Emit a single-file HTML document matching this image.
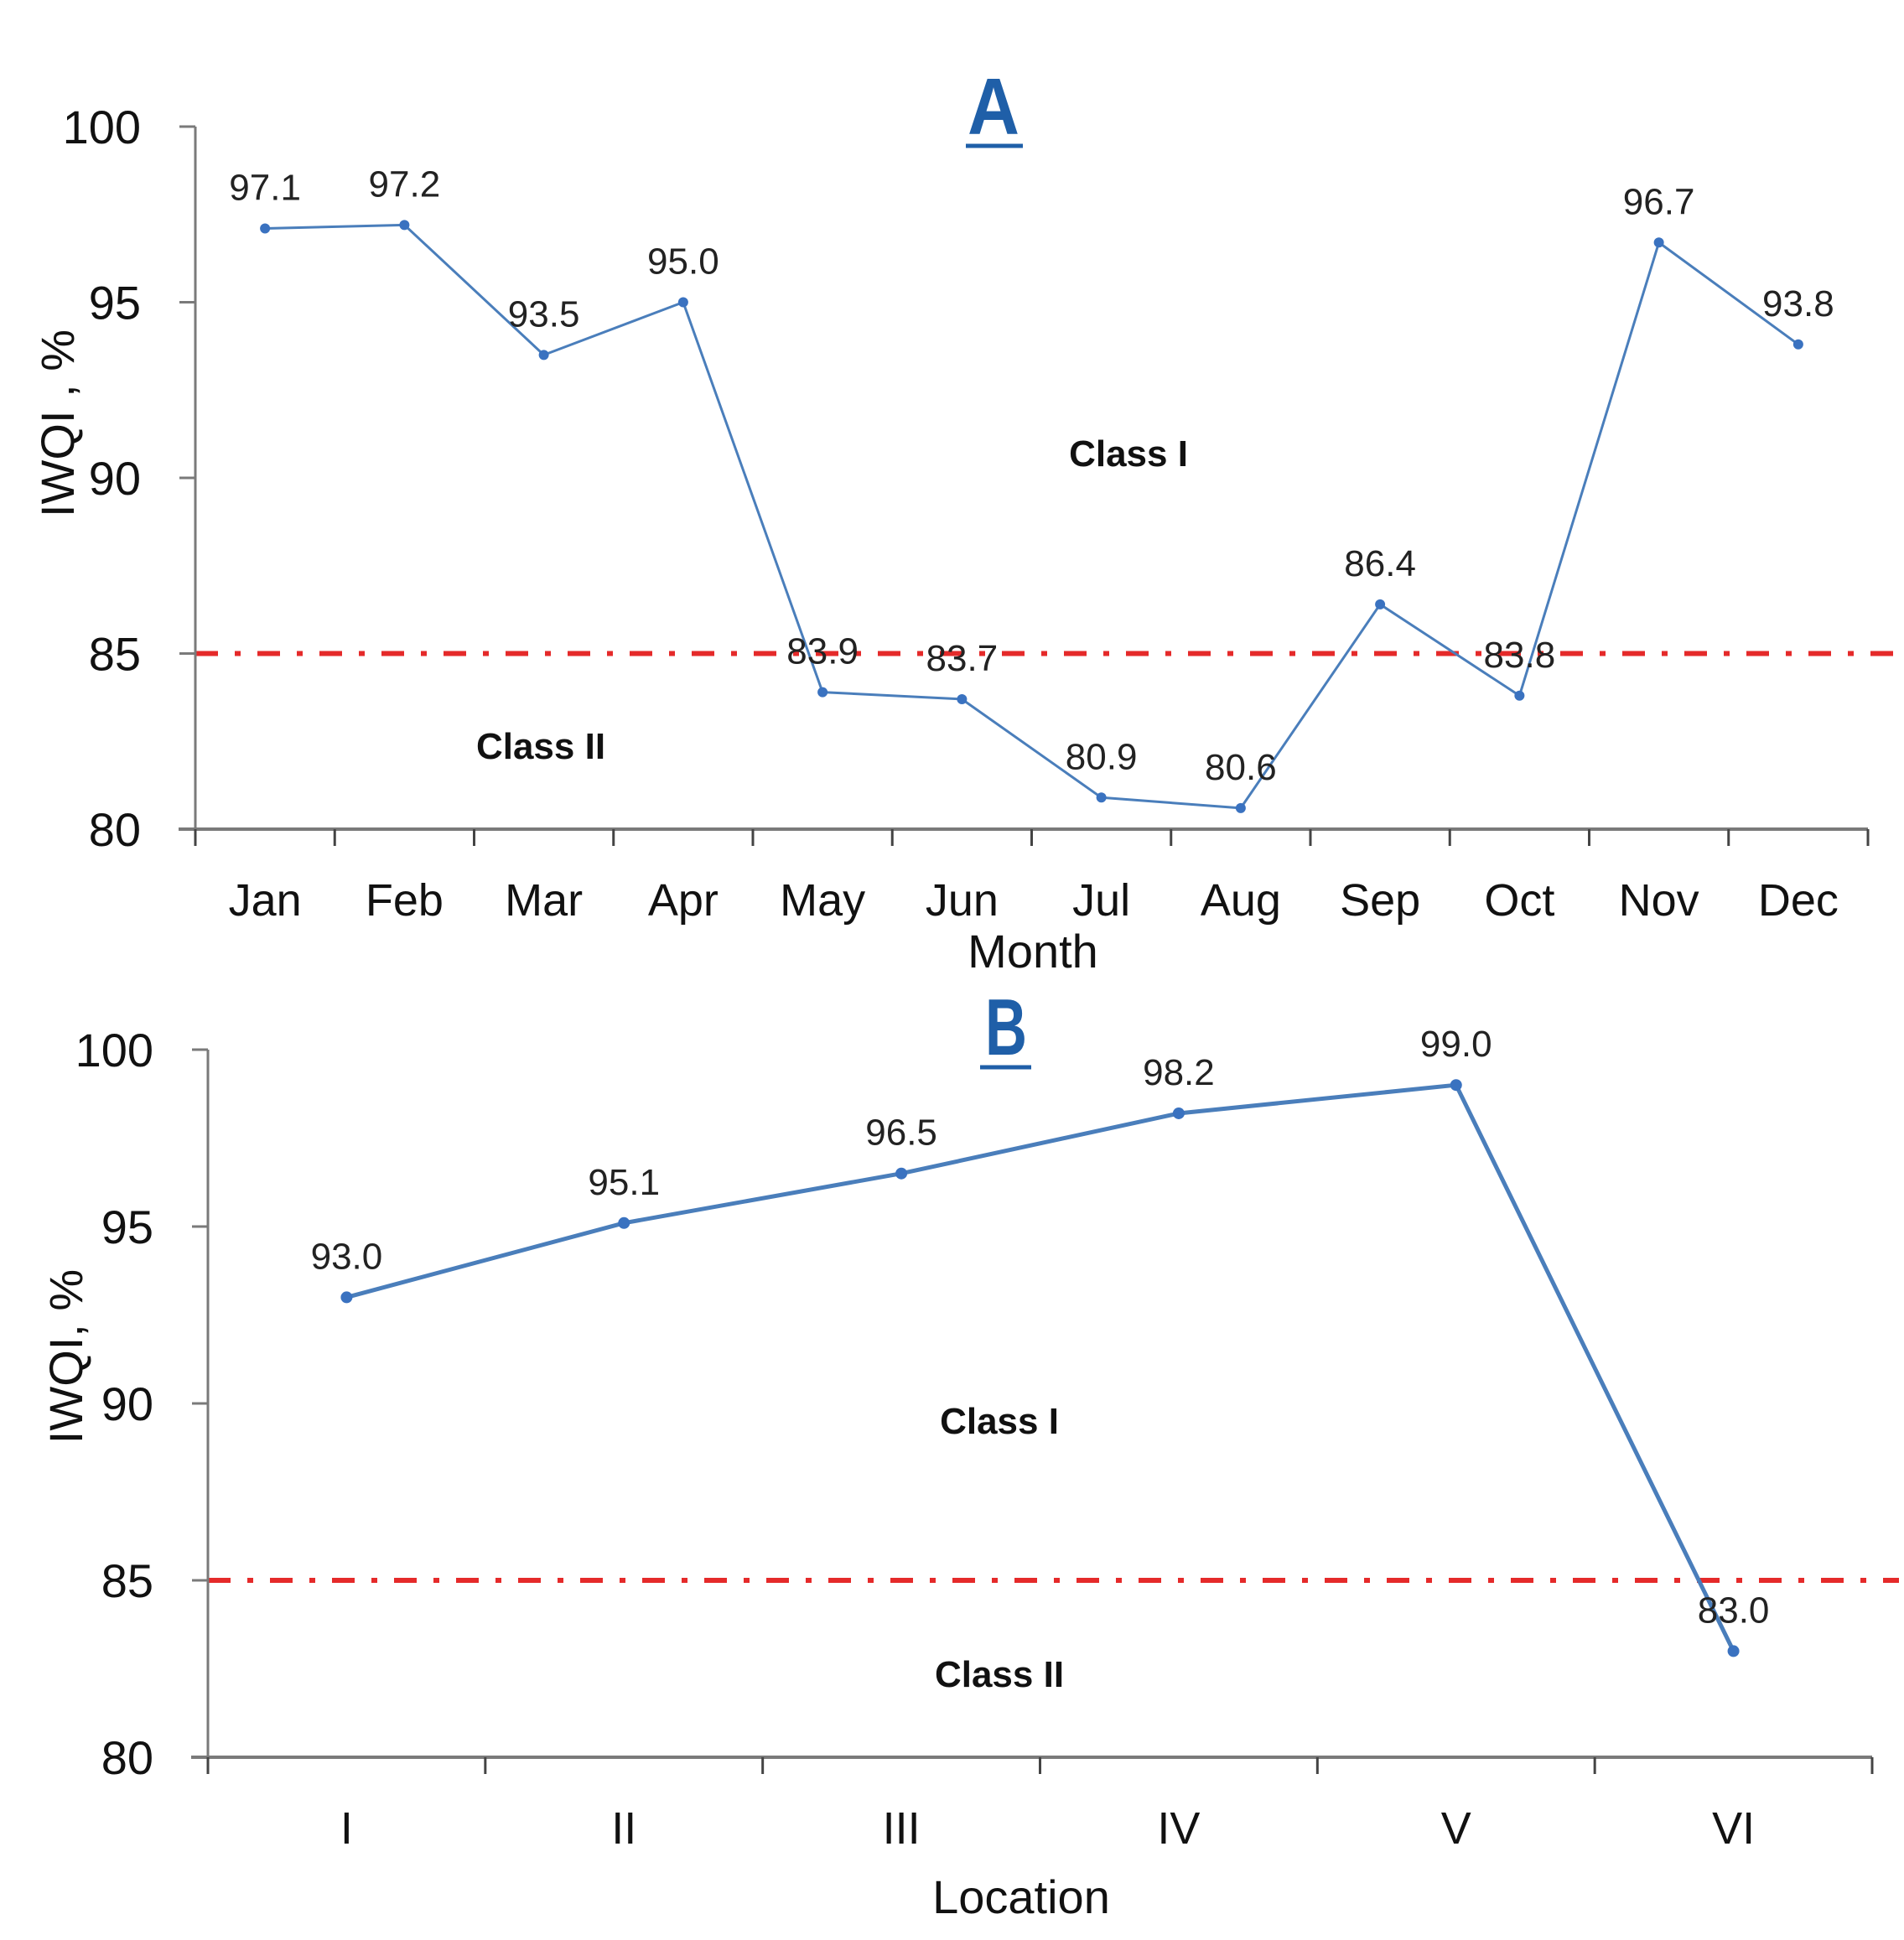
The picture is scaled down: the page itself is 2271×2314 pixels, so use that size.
<!DOCTYPE html>
<html><head><meta charset="utf-8"><style>
html,body{margin:0;padding:0;background:#fff;}
svg{display:block;font-family:"Liberation Sans",sans-serif;}
</style></head><body>
<svg id="chart" width="2271" height="2314" viewBox="0 0 2271 2314" xmlns="http://www.w3.org/2000/svg">
<rect x="0" y="0" width="2271" height="2314" fill="#fff"/>
<g id="gA"></g>
<g id="gB"></g>
<text x="1185" y="160" text-anchor="middle" font-size="96" font-weight="bold" fill="#1f5fa8" textLength="62" lengthAdjust="spacingAndGlyphs">A</text>
<line x1="1152" x2="1220" y1="174" y2="174" stroke="#1f5fa8" stroke-width="5"/>
<text x="1200" y="1258" text-anchor="middle" font-size="96" font-weight="bold" fill="#1f5fa8" textLength="50" lengthAdjust="spacingAndGlyphs">B</text>
<line x1="1169" x2="1230" y1="1273" y2="1273" stroke="#1f5fa8" stroke-width="5"/>
<text transform="translate(88,505) rotate(-90)" text-anchor="middle" font-size="56" fill="#111">IWQI , %</text>
<text transform="translate(98,1618) rotate(-90)" text-anchor="middle" font-size="56" fill="#111">IWQI, %</text>
<text x="1232" y="1154" text-anchor="middle" font-size="56" fill="#111">Month</text>
<text x="1218" y="2282" text-anchor="middle" font-size="56" fill="#111">Location</text>
<text x="1346" y="556" text-anchor="middle" font-size="44" font-weight="bold" fill="#111">Class I</text>
<text x="645" y="905" text-anchor="middle" font-size="44" font-weight="bold" fill="#111">Class II</text>
<text x="1192" y="1710" text-anchor="middle" font-size="44" font-weight="bold" fill="#111">Class I</text>
<text x="1192" y="2012" text-anchor="middle" font-size="44" font-weight="bold" fill="#111">Class II</text>
</svg>
<script>
const monthCats = ["Jan","Feb","Mar","Apr","May","Jun","Jul","Aug","Sep","Oct","Nov","Dec"];
const monthVals = [97.1,97.2,93.5,95.0,83.9,83.7,80.9,80.6,86.4,83.8,96.7,93.8];
const locCats = ["I","II","III","IV","V","VI"];
const locVals = [93.0,95.1,96.5,98.2,99.0,83.0];
const yTicks = [80,85,90,95,100];
const threshold = 85;
const NS="http://www.w3.org/2000/svg";
function mk(parent, tag, attrs, text){
  const e=document.createElementNS(NS,tag);
  for(const k in attrs) e.setAttribute(k,attrs[k]);
  if(text!==undefined) e.textContent=text;
  parent.appendChild(e); return e;
}
function panel(g, cfg){
  const yS = v => cfg.y80 + (v-80)/20*(cfg.y100-cfg.y80);
  const n = cfg.cats.length, cw=(cfg.x1-cfg.x0)/n;
  const xS = i => cfg.x0 + cw*(i+0.5);
  const tl = mk(g,'line',{x1:cfg.x0,x2:2265,y1:yS(threshold),y2:yS(threshold),stroke:'#e52a2a','stroke-width':6,'stroke-dasharray':'27 20 7 20'});
  
  
  const ya = mk(g,'line',{x1:cfg.x0,x2:cfg.x0,y1:cfg.y100,y2:cfg.y80,stroke:'#7a7a7a','stroke-width':3});
  
  
  const xa = mk(g,'line',{x1:cfg.x0-20,x2:cfg.x1,y1:cfg.y80,y2:cfg.y80,stroke:'#7a7a7a','stroke-width':4});
  
  
  yTicks.forEach(t=>{
    const y=yS(t);
    mk(g,'line',{x1:cfg.x0-19,x2:cfg.x0,y1:y,y2:y,stroke:'#7a7a7a','stroke-width':3});
    const tx = mk(g,'text',{x:cfg.ylabX,y:y+20,'text-anchor':'end','font-size':56,fill:'#111'},String(t));
    
    
  });
  for(let i=0;i<=n;i++){
    const x=cfg.x0+cw*i;
    mk(g,'line',{x1:x,x2:x,y1:cfg.y80,y2:cfg.y80+20,stroke:'#444','stroke-width':3});
  }
  cfg.cats.forEach((c,i)=>{
    const tx = mk(g,'text',{x:xS(i),y:cfg.catY,'text-anchor':'middle','font-size':54,fill:'#111'},c);
    
    
  });
  const pts = cfg.vals.map((v,i)=>xS(i)+','+yS(v)).join(' ');
  const pl = mk(g,'polyline',{points:pts,fill:'none',stroke:'#4a7ebb','stroke-width':cfg.lw,'stroke-linejoin':'round'});
  
  
  cfg.vals.forEach((v,i)=>{
    const c = mk(g,'circle',{cx:xS(i),cy:yS(v),r:cfg.r,fill:'#3a72c0'});
    
    
    const t = mk(g,'text',{x:xS(i),y:yS(v)-34,'text-anchor':'middle','font-size':44,fill:'#222'},v.toFixed(1));
    
    
  });
}
const gA=document.getElementById('gA'), gB=document.getElementById('gB');
panel(gA,{cats:monthCats,vals:monthVals,x0:233,x1:2228,y100:151,y80:989,ylabX:168,catY:1092,lw:3,r:6});
panel(gB,{cats:locCats,vals:locVals,x0:248,x1:2233,y100:1252,y80:2096,ylabX:183,catY:2199,lw:5,r:7});
</script>
</body></html>
